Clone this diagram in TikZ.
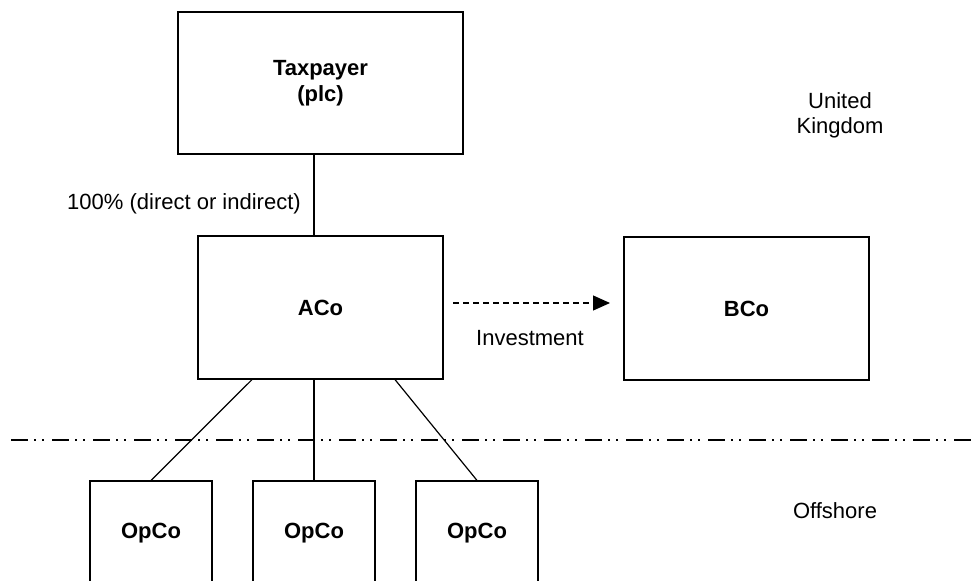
\documentclass[tikz,border=0pt]{standalone}
\usepackage{fontspec}
\setmainfont{Liberation Sans}
\usetikzlibrary{calc,arrows.meta}
\begin{document}
\begin{tikzpicture}[x=1pt,y=-1pt,
  every node/.style={font=\fontsize{22}{25}\selectfont},
  entbox/.style={draw,line width=1.2pt,inner sep=0pt,font=\fontsize{22}{26}\selectfont\bfseries,align=center},
  conn/.style={line width=1.2pt},
  lbl/.style={inner sep=0pt,align=center}]
\useasboundingbox (0,0) rectangle (975,581);
\clip (0,0) rectangle (975,581);
\node[entbox,minimum width=285pt,minimum height=142pt] (tax) at (320.5,83) {Taxpayer\\(plc)};
\node[entbox,minimum width=245pt,minimum height=143pt] (aco) at (320.5,307.5) {ACo};
\node[entbox,minimum width=245pt,minimum height=143pt] (bco) at (746.5,308.5) {BCo};
\node[entbox,minimum width=122pt,minimum height=104pt] (op1) at (151,533) {OpCo};
\node[entbox,minimum width=122pt,minimum height=104pt] (op2) at (314,533) {OpCo};
\node[entbox,minimum width=122pt,minimum height=104pt] (op3) at (477,533) {OpCo};
\node[lbl] (pct) at (184,204) {100\% (direct or indirect)};
\node[lbl] (inv) at (530,338) {Investment};
\node[lbl] (uk) at (840,115) {United\\Kingdom};
\node[lbl] (off) at (835,511) {Offshore};
\coordinate (dl) at (11,440);
\coordinate (dr) at (975,440);
\coordinate (as) at (453,303);
\coordinate (ae) at (610,303);
\draw[conn] (tax.south -| op2) -- (aco.north -| op2);
\draw[conn] (aco.south -| op2) -- (op2.north);
\draw[conn] ($(aco.south)+(-68.5,0)$) -- (op1.north);
\draw[conn] ($(aco.south)+(74.5,0)$) -- (op3.north);
\draw[line width=1.2pt,dash pattern=on 6pt off 4pt,-{Triangle[length=17pt,width=15pt]}] (as) -- (ae);
\draw[line width=2pt,dash pattern=on 17pt off 6pt on 2pt off 6pt on 2pt off 8pt] (dl) -- (dr);
\end{tikzpicture}
\end{document}
